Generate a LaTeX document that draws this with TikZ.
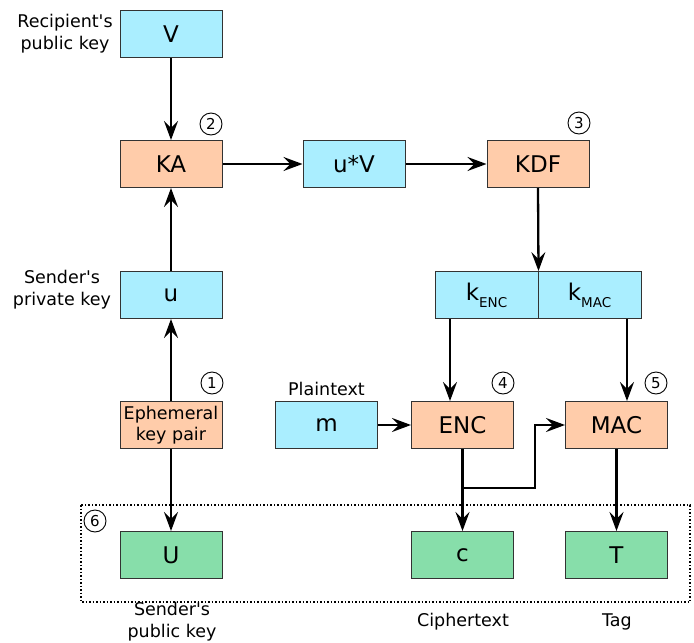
\documentclass[tikz,border=0pt]{standalone}
\usepackage{fontspec}
\setmainfont{DejaVu Sans}
\usetikzlibrary{arrows.meta,calc}
\definecolor{keyblue}{RGB}{170,238,255}
\definecolor{oppeach}{RGB}{255,204,170}
\definecolor{outgreen}{RGB}{135,222,170}
\begin{document}
\begin{tikzpicture}[x=1pt,y=-1pt,
  box/.style={draw=black!80, line width=1pt, minimum width=102pt, minimum height=47pt,
    inner sep=0pt, font=\fontsize{23}{27}\selectfont},
  keybox/.style={box, fill=keyblue},
  opbox/.style={box, fill=oppeach},
  outbox/.style={box, fill=outgreen},
  lbl/.style={font=\fontsize{17.5}{22}\selectfont, align=center, inner sep=0pt},
  stepno/.style={draw, circle, minimum size=22pt, inner sep=0pt, line width=0.9pt,
    font=\fontsize{15}{15}\selectfont},
  wire/.style={line width=2.3pt},
  arr/.style={wire, -{Stealth[length=19pt,width=14pt,inset=7pt]}}]
\useasboundingbox (0,0) rectangle (694,643);

% key agreement column
\node[keybox] (V) at (171,34) {V};
\node[opbox] (KA) at (171,164) {KA};
\node[keybox] (u) at (171,295) {u};
\node[opbox, font=\fontsize{17.5}{21}\selectfont, align=center] (eph) at (171,425) {Ephemeral\\key pair};
\node[outbox] (U) at (171,555) {U};

% key derivation
\node[keybox] (uV) at (354,164) {u*V};
\node[opbox] (KDF) at (538,164) {KDF};
\node[keybox, minimum width=103pt] (kenc) at (486.5,295) {k\raisebox{-0.3em}{\fontsize{13.5}{13.5}\selectfont ENC}};
\node[keybox, minimum width=103pt] (kmac) at (589.5,295) {k\raisebox{-0.3em}{\fontsize{13.5}{13.5}\selectfont MAC}};

% encryption and tagging
\node[keybox] (m) at (326.5,425) {m};
\node[opbox] (ENC) at (462.5,425) {ENC};
\node[opbox] (MAC) at (616.5,425) {MAC};
\node[outbox] (c) at (462.5,555) {c};
\node[outbox] (T) at (616.5,555) {T};

% side labels
\node[lbl] (lrec) at (65,34) {Recipient\textquotesingle s\\public key};
\node[lbl] (lpriv) at (62,290) {Sender\textquotesingle s\\private key};
\node[lbl] (lplain) at (326.5,389) {Plaintext};
\node[lbl] (lpub) at (172,622) {Sender\textquotesingle s\\public key};
\node[lbl] (lcip) at (463,622) {Ciphertext};
\node[lbl] (ltag) at (617,622) {Tag};

% step numbers
\node[stepno] (s1) at (212,383) {1};
\node[stepno] (s2) at (211,124) {2};
\node[stepno] (s3) at (579,123) {3};
\node[stepno] (s4) at (503,383) {4};
\node[stepno] (s5) at (656,383) {5};
\node[stepno] (s6) at (95,521) {6};

% output frame
\draw[dotted, line width=1.5pt] (81,505) rectangle (690,602);

% connectors
\draw[arr] (V) -- (KA);
\draw[arr] (u) -- (KA);
\draw[arr] (eph) -- (u);
\draw[arr] (eph) -- (U);
\draw[arr] (KA) -- (uV);
\draw[arr] (uV) -- (KDF);
\draw[arr] (KDF.south) -- (kenc.south east |- kenc.north);
\draw[arr] ([xshift=-12.5pt]ENC.north |- kenc.south) -- ([xshift=-12.5pt]ENC.north);
\draw[arr] ([xshift=10.5pt]MAC.north |- kmac.south) -- ([xshift=10.5pt]MAC.north);
\draw[arr] (m) -- (ENC);
\draw[arr] (ENC) -- (c);
\draw[arr] (MAC) -- (T);
\coordinate (fork) at (ENC.south |- 0,488);
\draw[arr] (fork) -| ([xshift=-30pt]MAC.west) -- (MAC.west);
\end{tikzpicture}
\end{document}
